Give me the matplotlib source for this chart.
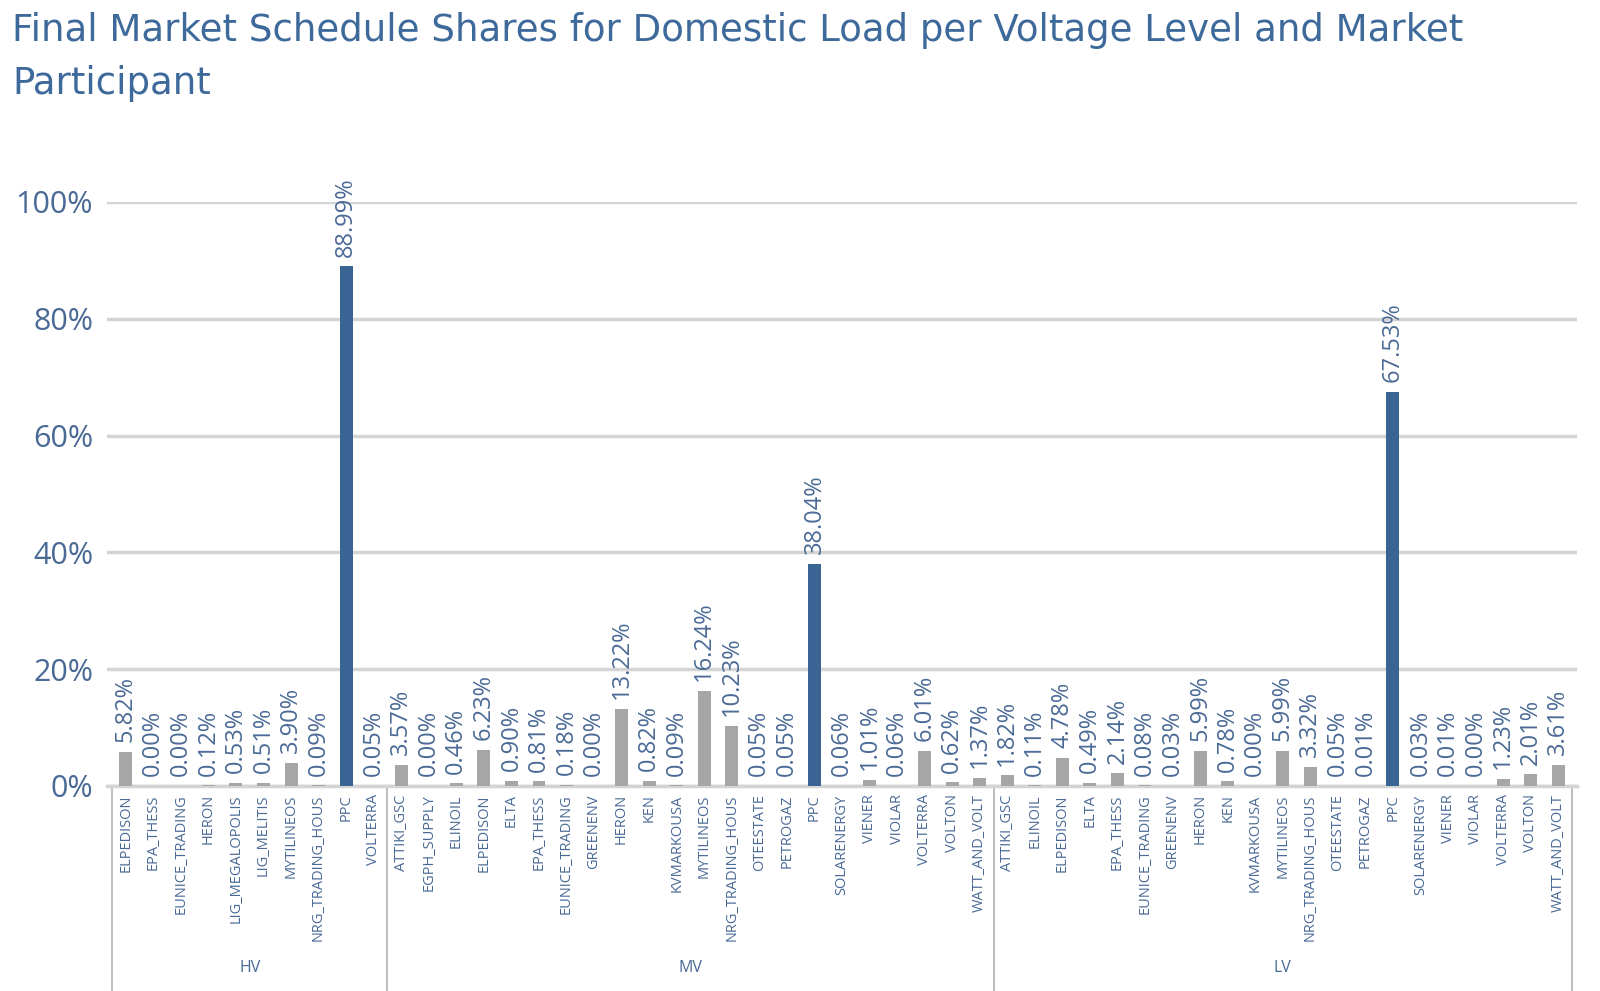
import matplotlib
matplotlib.use('Agg')
import matplotlib.pyplot as plt
import matplotlib.transforms as mtransforms
import numpy as np

# datos por nivel de tension
hv_names = ["ELPEDISON", "EPA_THESS", "EUNICE_TRADING", "HERON", "LIG_MEGALOPOLIS",
            "LIG_MELITIS", "MYTILINEOS", "NRG_TRADING_HOUS", "PPC", "VOLTERRA"]
hv_vals = [5.82, 0.00, 0.00, 0.12, 0.53, 0.51, 3.90, 0.09, 88.99, 0.05]

mv_names = ["ATTIKI_GSC", "EGPH_SUPPLY", "ELINOIL", "ELPEDISON", "ELTA", "EPA_THESS",
            "EUNICE_TRADING", "GREENENV", "HERON", "KEN", "KVMARKOUSA", "MYTILINEOS",
            "NRG_TRADING_HOUS", "OTEESTATE", "PETROGAZ", "PPC", "SOLARENERGY", "VIENER",
            "VIOLAR", "VOLTERRA", "VOLTON", "WATT_AND_VOLT"]
mv_vals = [3.57, 0.00, 0.46, 6.23, 0.90, 0.81, 0.18, 0.00, 13.22, 0.82, 0.09, 16.24,
           10.23, 0.05, 0.05, 38.04, 0.06, 1.01, 0.06, 6.01, 0.62, 1.37]

lv_names = ["ATTIKI_GSC", "ELINOIL", "ELPEDISON", "ELTA", "EPA_THESS", "EUNICE_TRADING",
            "GREENENV", "HERON", "KEN", "KVMARKOUSA", "MYTILINEOS", "NRG_TRADING_HOUS",
            "OTEESTATE", "PETROGAZ", "PPC", "SOLARENERGY", "VIENER", "VIOLAR", "VOLTERRA",
            "VOLTON", "WATT_AND_VOLT"]
lv_vals = [1.82, 0.11, 4.78, 0.49, 2.14, 0.08, 0.03, 5.99, 0.78, 0.00, 5.99, 3.32,
           0.05, 0.01, 67.53, 0.03, 0.01, 0.00, 1.23, 2.01, 3.61]

groups = ["HV", "MV", "LV"]
y_ticks = [0, 20, 40, 60, 80, 100]

plt.rcParams['font.family'] = ['Open Sans', 'DejaVu Sans']
col_txt = "#4a6a96"
col_gray = "#a6a6a6"
col_ppc = "#3a6494"
col_grid = "#d4d4d4"

names = hv_names + mv_names + lv_names
vals = hv_vals + mv_vals + lv_vals
sizes = [len(hv_names), len(mv_names), len(lv_names)]
x = np.arange(len(names))
colores = [col_ppc if n == "PPC" else col_gray for n in names]

fig = plt.figure(figsize=(16, 9.91), dpi=100)
ax = fig.add_axes([0.0669, 0.2069, 0.9187, 0.5893])

ax.bar(x, vals, width=0.47, color=colores, zorder=3)
ax.set_ylim(0, 100)
ax.set_xlim(-0.68, len(names) - 0.32)
ax.set_yticks(y_ticks)
ax.set_yticklabels([f"{t}%" for t in y_ticks], fontsize=22, color=col_txt)
ax.grid(axis='y', color=col_grid, linewidth=2.5, zorder=0)
ax.tick_params(axis='y', length=0, pad=10)
for s in ["top", "right", "left"]:
    ax.spines[s].set_visible(False)
ax.spines["bottom"].set_color(col_grid)
ax.spines["bottom"].set_linewidth(2.5)

ax.set_xticks(x)
ax.set_xticklabels(names, rotation=90, fontsize=10.5, color=col_txt, va='top')
ax.tick_params(axis='x', length=0, pad=6)

# etiquetas de valor
for xi, v in zip(x, vals):
    ax.annotate(f"{v:.2f}%", (xi, v), xytext=(0, 7), textcoords='offset points',
                rotation=90, ha='center', va='bottom', fontsize=17, color=col_txt,
                annotation_clip=False, zorder=4)

# separadores y nombres de grupo bajo el eje
trans = mtransforms.blended_transform_factory(ax.transData, fig.transFigure)
bordes = np.concatenate([[0], np.cumsum(sizes)]) - 0.5
for b in bordes:
    ax.plot([b, b], [0.2069, 0.0], transform=trans, color="#bfbfbf", linewidth=1.5, clip_on=False)
for g, a, b in zip(groups, bordes[:-1], bordes[1:]):
    ax.text((a + b) / 2, 0.023, g, transform=trans, ha='center', va='center',
            fontsize=11.5, color=col_txt)

fig.text(0.0075, 0.988, "Final Market Schedule Shares for Domestic Load per Voltage Level and Market\nParticipant",
         ha='left', va='top', fontsize=26.7, color="#3e6a9b", linespacing=1.55,
         family=['DejaVu Sans'])

fig.savefig("out.png", dpi=100)
plt.close(fig)
